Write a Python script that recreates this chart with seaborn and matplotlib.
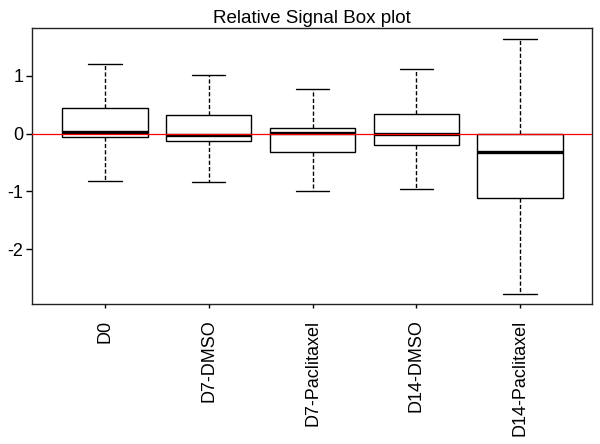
import numpy as np
import pandas as pd
import matplotlib
matplotlib.use("Agg")
import matplotlib.pyplot as plt
import seaborn as sns

# groups and five-number summaries
groups = ["D0", "D7-DMSO", "D7-Paclitaxel", "D14-DMSO", "D14-Paclitaxel"]
lower = [-0.825, -0.84, -0.99, -0.96, -2.78]
q1 = [-0.05, -0.13, -0.31, -0.20, -1.11]
median = [0.035, -0.03, 0.005, -0.01, -0.32]
q3 = [0.45, 0.33, 0.10, 0.34, -0.01]
upper = [1.20, 1.01, 0.77, 1.12, 1.63]

rows = []
for i, g in enumerate(groups):
    for v in (lower[i], q1[i], median[i], q3[i], upper[i]):
        rows.append({"group": g, "signal": v})
df = pd.DataFrame(rows)

sns.set_style("ticks", {"text.color": "black", "xtick.color": "black",
                        "ytick.color": "black", "axes.edgecolor": "black"})
plt.rcParams["font.family"] = ["Liberation Sans", "DejaVu Sans"]

fig = plt.figure(figsize=(6, 4.44), dpi=100)
ax = fig.add_axes([0.054, 0.315, 0.932, 0.621])

sns.boxplot(data=df, x="group", y="signal", order=groups, ax=ax,
            whis=np.inf, width=0.82, color="white", linecolor="black",
            linewidth=1, capwidths=0.32,
            boxprops=dict(facecolor="white", edgecolor="black", linewidth=1),
            whiskerprops=dict(linestyle=(0, (3, 1.6)), linewidth=1, color="black"),
            capprops=dict(linewidth=1, color="black"),
            medianprops=dict(linewidth=2.4, color="black"))

ax.axhline(0, color="red", linewidth=0.9, zorder=5)

ax.set_xlim(-0.7, 4.69)
ax.set_ylim(-2.95, 1.82)
ax.set_yticks([-2, -1, 0, 1])
ax.set_yticklabels(["-2", "-1", "0", "1"])
ax.set_xlabel("")
ax.set_ylabel("")
ax.set_title("Relative Signal Box plot", fontsize=13.5, pad=4, color="black")
ax.tick_params(axis="y", length=4.5, width=1, pad=2, labelsize=13, colors="black")
ax.tick_params(axis="x", length=3, width=1, pad=8, labelsize=13, labelrotation=90,
               colors="black")
for s in ax.spines.values():
    s.set_visible(True)
    s.set_linewidth(1)
    s.set_color("#222222")

fig.savefig("out.png", dpi=100)
